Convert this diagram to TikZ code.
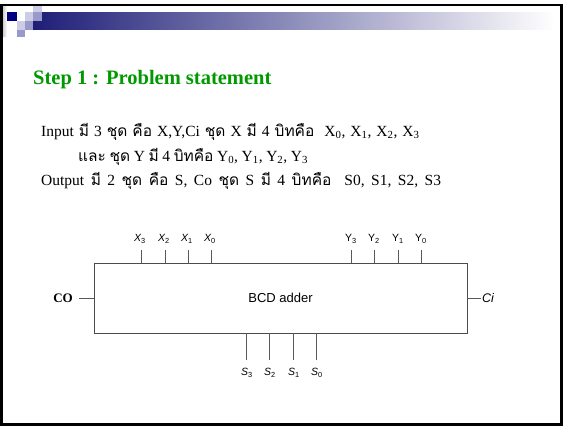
\documentclass[tikz,border=0pt]{standalone}
\usepackage{fontspec}
\setmainfont{Liberation Serif}
\setsansfont{Liberation Sans}
\newfontfamily\thaifont[Script=Thai,Scale=1.0]{Loma}
\newcommand{\thai}[1]{{\thaifont #1}}
\usepackage{tikz}
\usetikzlibrary{positioning, calc}

\definecolor{titlegreen}{RGB}{0,153,0}
\definecolor{decnavy}{RGB}{0,0,128}
\definecolor{barnavy}{RGB}{30,30,120}
\definecolor{lavlight}{RGB}{204,204,230}
\definecolor{lavmid}{RGB}{153,153,204}

\begin{document}
\begin{tikzpicture}[x=1pt, y=-1pt,
  font=\sffamily,
  box/.style={draw=black!70, line width=0.9pt, minimum width=373pt,
    minimum height=70pt, inner sep=0pt,
    font=\sffamily\fontsize{13}{15}\selectfont},
  wire/.style={draw=black!65, line width=0.8pt},
  pinlbl/.style={font=\sffamily\fontsize{10.5}{12}\selectfont, inner sep=1pt},
  heading/.style={font=\rmfamily\bfseries\fontsize{20.5}{24}\selectfont,
    text=titlegreen, inner sep=0pt, anchor=base west},
  bodytext/.style={font=\rmfamily\fontsize{15.5}{18}\selectfont,
    inner sep=0pt, anchor=base west},
]
  \useasboundingbox (0,0) rectangle (565,426);

  % slide decoration
  \shade[left color=barnavy, right color=white] (33,12) rectangle (555,29.5);
  \shade[left color=black!20, right color=white] (2.7,6) rectangle (7,36);
  \fill[lavlight] (33,4) rectangle (42,12);
  \fill[decnavy]  (7,12) rectangle (16.5,21);
  \fill[lavlight] (25,12) rectangle (33,21);
  \fill[lavmid]   (33,12) rectangle (42,21);
  \fill[lavlight] (16.5,21) rectangle (25,29.5);
  \fill[lavmid]   (25,21) rectangle (33,29.5);
  \fill[lavmid]   (16.5,29.5) rectangle (25,37);
  \draw[line width=2.6pt] (1.3,5) rectangle (561.7,424.2);

  % heading and text
  \node[heading] (title) at (33,84) {Step 1 : Problem statement};
  \node[bodytext] (line1) at (41,136)
    {\spaceskip=5pt Input \thai{มี} 3 \thai{ชุด คือ} X,Y,Ci \thai{ชุด} X \thai{มี} 4 \thai{บิทคือ}\hspace{5pt} X\textsubscript{0}, X\textsubscript{1}, X\textsubscript{2}, X\textsubscript{3}};
  \node[bodytext] (line2) at (78,161)
    {\spaceskip=3.6pt \thai{และ ชุด} Y \thai{มี} 4 \thai{บิทคือ} Y\textsubscript{0}, Y\textsubscript{1}, Y\textsubscript{2}, Y\textsubscript{3}};
  \node[bodytext] (line3) at (41,185)
    {\spaceskip=6.5pt Output \thai{มี} 2 \thai{ชุด คือ} S, Co \thai{ชุด} S \thai{มี} 4 \thai{บิทคือ}\hspace{6.5pt} S0, S1, S2, S3};

  % BCD adder block
  \node[box] (adder) at (280.5,298) {BCD adder};

  \node[pinlbl] (x3) at (140,239) {\itshape X\textsubscript{\upshape 3}};
  \node[pinlbl] (x2) at (164,239) {\itshape X\textsubscript{\upshape 2}};
  \node[pinlbl] (x1) at (187,239) {\itshape X\textsubscript{\upshape 1}};
  \node[pinlbl] (x0) at (210,239) {\itshape X\textsubscript{\upshape 0}};
  \node[pinlbl] (y3) at (351,239) {Y\textsubscript{3}};
  \node[pinlbl] (y2) at (374,239) {Y\textsubscript{2}};
  \node[pinlbl] (y1) at (398,239) {Y\textsubscript{1}};
  \node[pinlbl] (y0) at (421,239) {Y\textsubscript{0}};
  \node[pinlbl] (s3) at (247,373) {\itshape S\textsubscript{\upshape 3}};
  \node[pinlbl] (s2) at (270,373) {\itshape S\textsubscript{\upshape 2}};
  \node[pinlbl] (s1) at (294,373) {\itshape S\textsubscript{\upshape 1}};
  \node[pinlbl] (s0) at (317,373) {\itshape S\textsubscript{\upshape 0}};

  \coordinate (x3t) at (141,250);
  \coordinate (x2t) at (165,250);
  \coordinate (x1t) at (188,250);
  \coordinate (x0t) at (211,250);
  \coordinate (y3t) at (351,250);
  \coordinate (y2t) at (374,250);
  \coordinate (y1t) at (398,250);
  \coordinate (y0t) at (421,250);
  \coordinate (s3b) at (246,360);
  \coordinate (s2b) at (269,360);
  \coordinate (s1b) at (293,360);
  \coordinate (s0b) at (316,360);

  \draw[wire] (x3t) -- (x3t |- adder.north);
  \draw[wire] (x2t) -- (x2t |- adder.north);
  \draw[wire] (x1t) -- (x1t |- adder.north);
  \draw[wire] (x0t) -- (x0t |- adder.north);
  \draw[wire] (y3t) -- (y3t |- adder.north);
  \draw[wire] (y2t) -- (y2t |- adder.north);
  \draw[wire] (y1t) -- (y1t |- adder.north);
  \draw[wire] (y0t) -- (y0t |- adder.north);
  \draw[wire] (s3b) -- (s3b |- adder.south);
  \draw[wire] (s2b) -- (s2b |- adder.south);
  \draw[wire] (s1b) -- (s1b |- adder.south);
  \draw[wire] (s0b) -- (s0b |- adder.south);

  \node[anchor=east, inner sep=6pt,
    font=\rmfamily\bfseries\fontsize{13}{15}\selectfont] (co) at (79,298) {CO};
  \node[anchor=west, inner sep=1pt,
    font=\sffamily\itshape\fontsize{12.5}{14}\selectfont] (ci) at (481,298) {Ci};
  \draw[wire] (co.east) -- (adder.west);
  \draw[wire] (adder.east) -- (ci.west);
\end{tikzpicture}
\end{document}
